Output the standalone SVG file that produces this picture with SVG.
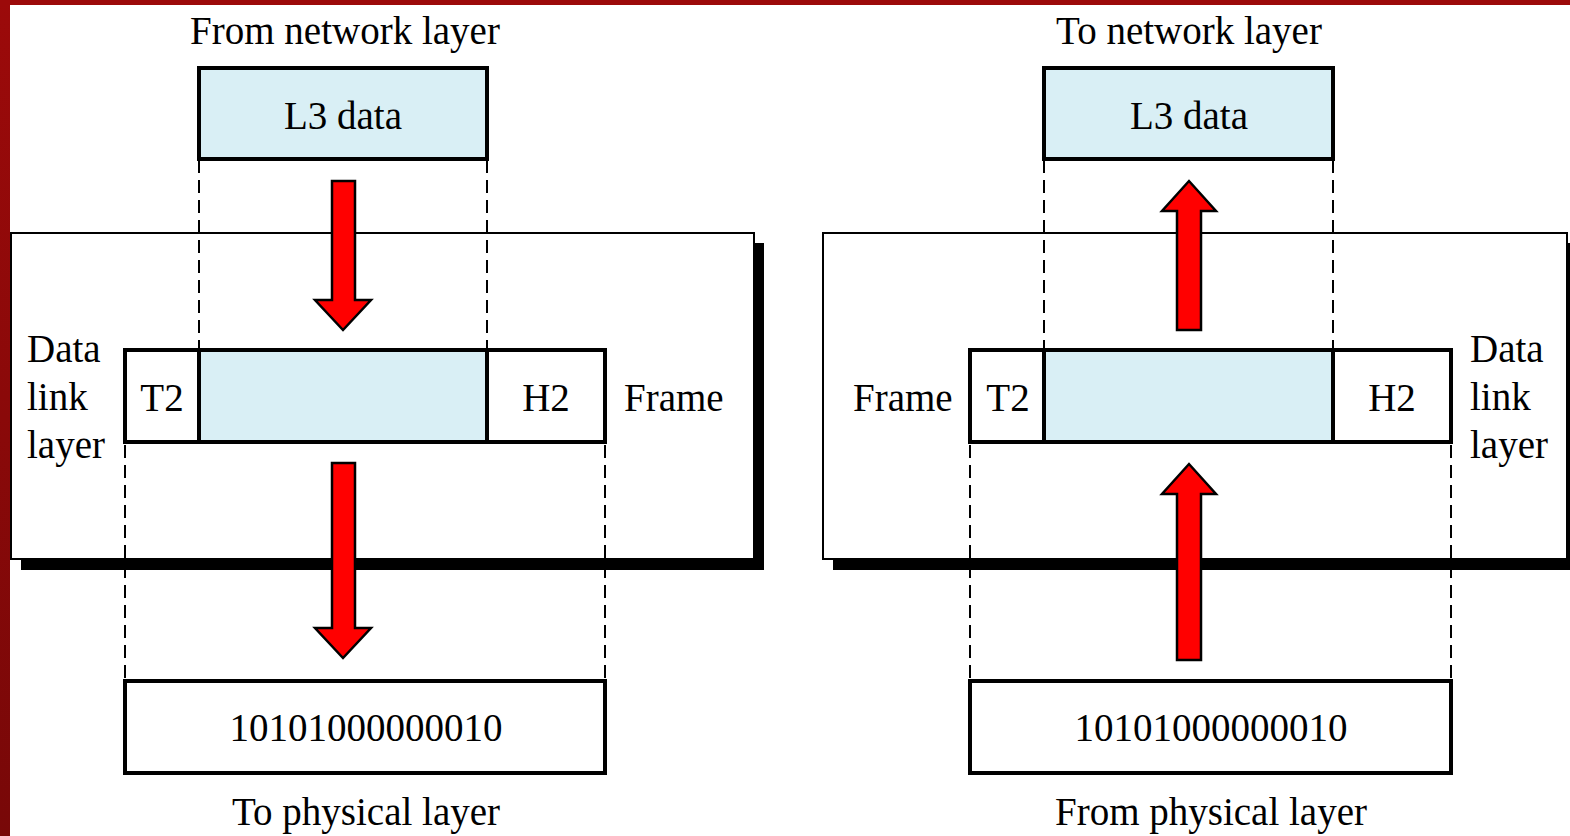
<svg xmlns="http://www.w3.org/2000/svg" width="1570" height="836" viewBox="0 0 1570 836">
<defs>
<linearGradient id="bord" x1="0" y1="0" x2="0" y2="1">
<stop offset="0" stop-color="#9c0a0a"/>
<stop offset="1" stop-color="#780808"/>
</linearGradient>
<style>
.t{font-family:"Liberation Serif","Times New Roman",serif;font-size:39px;fill:#000}
.m{text-anchor:middle}
.box{fill:#fff;stroke:#000;stroke-width:4}
.blue{fill:#d9eff5;stroke:#000;stroke-width:4}
.outer{fill:#fff;stroke:#000;stroke-width:2}
.dash{stroke:#000;stroke-width:2;stroke-dasharray:13 7;fill:none}
.arrow{fill:#ff0000;stroke:#000;stroke-width:2.5;stroke-linejoin:miter}
</style>
</defs>
<rect x="0" y="0" width="1570" height="836" fill="#fff"/>
<rect x="0" y="0" width="10" height="836" fill="url(#bord)"/>
<rect x="0" y="0" width="1570" height="5" fill="#9c0a0a"/>

<g id="left-layer">
<rect x="21" y="243" width="743" height="327" fill="#000"/>
<rect class="outer" x="11" y="233" width="743" height="326"/>
</g>
<g id="right-layer">
<rect x="833" y="243" width="743" height="327" fill="#000"/>
<rect class="outer" x="823" y="233" width="744" height="326"/>
</g>

<g id="connectors">
<line class="dash" x1="199" y1="160" x2="199" y2="348"/>
<line class="dash" x1="487" y1="160" x2="487" y2="348"/>
<line class="dash" x1="125" y1="445" x2="125" y2="679"/>
<line class="dash" x1="605" y1="445" x2="605" y2="679"/>
<line class="dash" x1="1044" y1="160" x2="1044" y2="348"/>
<line class="dash" x1="1333" y1="160" x2="1333" y2="348"/>
<line class="dash" x1="970" y1="445" x2="970" y2="679"/>
<line class="dash" x1="1451" y1="445" x2="1451" y2="679"/>
<polygon class="arrow" points="332,181 355,181 355,300 371,300 343,330 315,300 332,300"/>
<polygon class="arrow" points="332,463 355,463 355,628 371,628 343,658 315,628 332,628"/>
<polygon class="arrow" points="1177,330 1201,330 1201,211 1216,211 1189,181 1162,211 1177,211"/>
<polygon class="arrow" points="1177,660 1201,660 1201,494 1216,494 1189,464 1162,494 1177,494"/>
</g>

<g id="left-l3">
<rect class="blue" x="199" y="68" width="288" height="91"/>
<text class="t m" x="343" y="129">L3 data</text>
</g>
<g id="left-frame">
<rect class="box" x="125" y="350" width="480" height="92"/>
<rect class="blue" x="199" y="350" width="288" height="92"/>
<text class="t m" x="162" y="411">T2</text>
<text class="t m" x="546" y="411">H2</text>
</g>
<g id="left-bits">
<rect class="box" x="125" y="681" width="480" height="92"/>
<text class="t m" x="366" y="741">10101000000010</text>
</g>
<g id="left-labels">
<text class="t m" x="345" y="44">From network layer</text>
<text class="t" x="27" y="362">Data</text>
<text class="t" x="27" y="410">link</text>
<text class="t" x="27" y="458">layer</text>
<text class="t" x="624" y="411">Frame</text>
<text class="t m" x="366" y="825">To physical layer</text>
</g>

<g id="right-l3">
<rect class="blue" x="1044" y="68" width="289" height="91"/>
<text class="t m" x="1189" y="129">L3 data</text>
</g>
<g id="right-frame">
<rect class="box" x="970" y="350" width="481" height="92"/>
<rect class="blue" x="1044" y="350" width="289" height="92"/>
<text class="t m" x="1008" y="411">T2</text>
<text class="t m" x="1392" y="411">H2</text>
</g>
<g id="right-bits">
<rect class="box" x="970" y="681" width="481" height="92"/>
<text class="t m" x="1211" y="741">10101000000010</text>
</g>
<g id="right-labels">
<text class="t m" x="1189" y="44">To network layer</text>
<text class="t" x="1470" y="362">Data</text>
<text class="t" x="1470" y="410">link</text>
<text class="t" x="1470" y="458">layer</text>
<text class="t" x="853" y="411">Frame</text>
<text class="t m" x="1211" y="825">From physical layer</text>
</g>
</svg>
